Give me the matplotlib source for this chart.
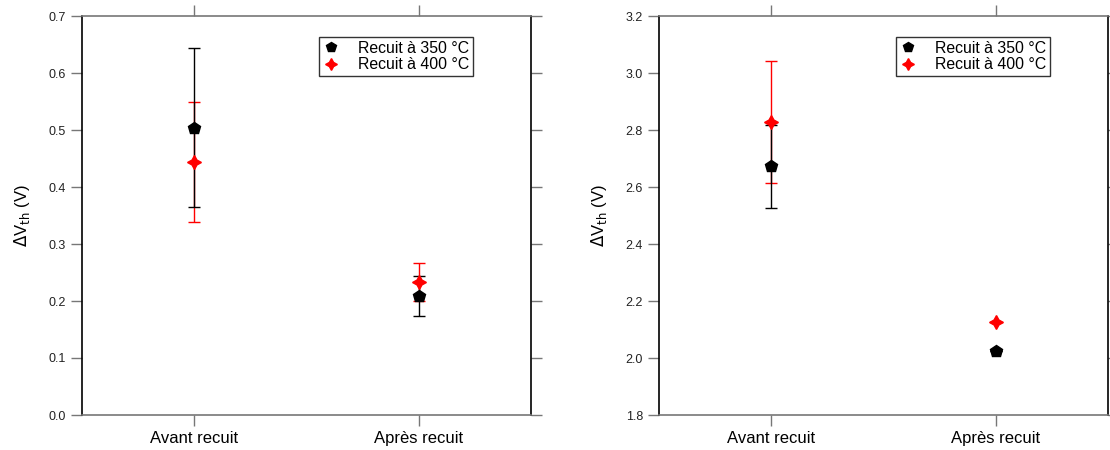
import numpy as np
import matplotlib
matplotlib.use('Agg')
import matplotlib.pyplot as plt

plt.rcParams['font.family'] = ['Liberation Sans', 'DejaVu Sans']

categories = ['Avant recuit', 'Après recuit']
labels = ['Recuit à 350 °C', 'Recuit à 400 °C']

# panel 1
left_350 = [0.504, 0.209]
left_350_err = [0.139, 0.035]
left_400 = [0.444, 0.233]
left_400_err = [0.106, 0.033]

# panel 2
right_350 = [2.672, 2.025]
right_350_err = [0.147, 0.0]
right_400 = [2.828, 2.128]
right_400_err = [0.213, 0.0]

W, H = 1110, 450
fig = plt.figure(figsize=(W / 100, H / 100), dpi=100)

def setup(ax, ylim, yticks, fmt):
    x = np.arange(len(categories))
    ax.set_xlim(-0.5, 1.5)
    ax.set_ylim(*ylim)
    ax.set_xticks(x)
    ax.set_xticklabels(categories, fontsize=12)
    ax.set_yticks(yticks)
    ax.set_yticklabels([fmt.format(v) for v in yticks], fontsize=9, color='#222222')
    ax.tick_params(axis='y', direction='out', length=8, color='#777777', left=True, right=True, width=1)
    ax.tick_params(axis='x', direction='out', length=8, color='#777777', top=True, bottom=True, width=1)
    for s in ['top', 'bottom']:
        ax.spines[s].set_color('#777777')
        ax.spines[s].set_linewidth(1.2)
    for s in ['left', 'right']:
        ax.spines[s].set_color('black')
        ax.spines[s].set_linewidth(1.2)
    ax.set_ylabel(r'$\Delta$V$_{\rm th}$ (V)', fontsize=12, labelpad=12)

def draw(ax, y350, e350, y400, e400):
    x = np.arange(len(categories))
    ax.errorbar(x, y400, yerr=e400, fmt='none', ecolor='red', elinewidth=1,
                capsize=4, capthick=1, zorder=2)
    ax.errorbar(x, y350, yerr=e350, fmt='none', ecolor='black', elinewidth=1,
                capsize=4, capthick=1, zorder=3)
    ax.plot(x, y350, linestyle='none', marker='p', color='black', markersize=9,
            label=labels[0], zorder=4)
    ax.plot(x, y400, linestyle='none', marker=(4, 1, 0), color='red', markersize=10,
            label=labels[1], zorder=5)
    leg = ax.legend(loc='upper left', bbox_to_anchor=(0.528, 0.948), fontsize=11.4,
                    frameon=True, fancybox=False, handlelength=1.0, handletextpad=1.2,
                    borderpad=0.25, labelspacing=0.1, borderaxespad=0,
                    markerscale=0.85)
    leg.get_frame().set_edgecolor('black')
    leg.get_frame().set_linewidth(1)

bottom = 1 - 415 / H
height = (415 - 16) / H
ax1 = fig.add_axes([82 / W, bottom, (531 - 82) / W, height])
ax2 = fig.add_axes([659 / W, bottom, (1108 - 659) / W, height])

setup(ax1, (0.0, 0.7), np.arange(0, 0.71, 0.1), '{:.1f}')
draw(ax1, left_350, left_350_err, left_400, left_400_err)
setup(ax2, (1.8, 3.2), np.arange(1.8, 3.21, 0.2), '{:.1f}')
draw(ax2, right_350, right_350_err, right_400, right_400_err)

fig.savefig('out.png', dpi=100)
